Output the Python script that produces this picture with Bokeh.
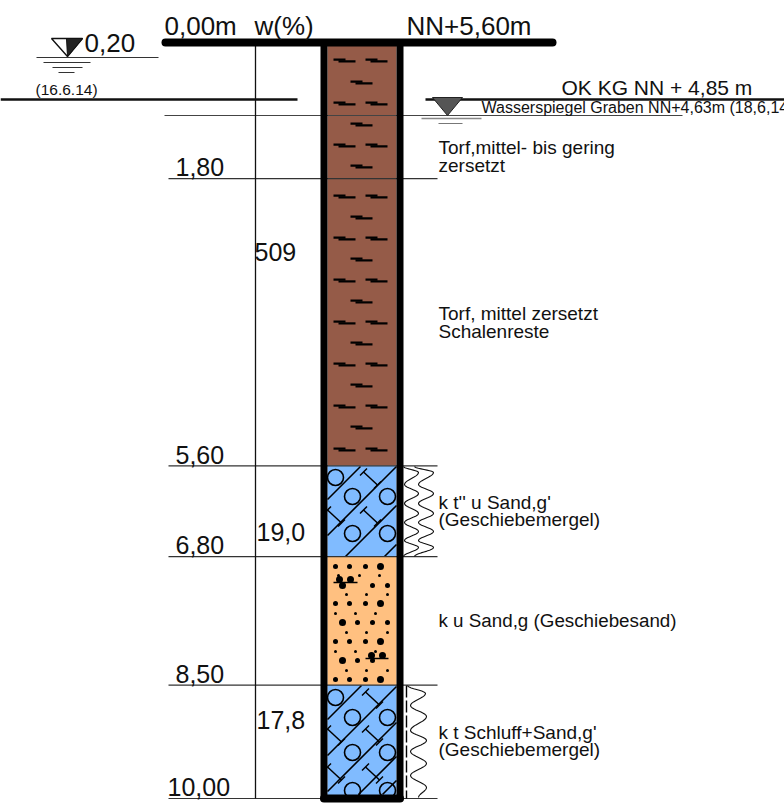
import math
from bokeh.plotting import figure
from bokeh.models import Range1d
from bokeh.embed import file_html
from bokeh.resources import INLINE

# ---- data ----
layer_tops = [0.00, 5.60, 6.80, 8.50]
layer_bottoms = [5.60, 6.80, 8.50, 10.00]
layer_colors = ["#955b48", "#80bbff", "#ffc080", "#80bbff"]
depth_labels = ["1,80", "5,60", "6,80", "8,50", "10,00"]
depth_values = [1.80, 5.60, 6.80, 8.50, 10.00]
moisture_labels = ["509", "19,0", "17,8"]

PX_PER_M = 75.6
TOP_PX = 42.0
W, H = 784, 812
FONT = "Liberation Sans"
INK = "#111111"


def Y(px):
    return (px - TOP_PX) / PX_PER_M


p = figure(width=W, height=H, output_backend="svg", toolbar_location=None,
           x_range=Range1d(0, W), y_range=Range1d(Y(H), Y(0)),
           min_border=0, outline_line_color=None, background_fill_color="white")
p.axis.visible = False
p.grid.visible = False


def line(x0, y0, x1, y1, w=1.0, c="#222222", cap="butt", dash=None):
    r = p.line([x0, x1], [Y(y0), Y(y1)], line_width=w, line_color=c, line_cap=cap)
    if dash:
        r.glyph.line_dash = dash


def poly(xs, ys, w=1.0, c="#111111"):
    p.line(xs, [Y(v) for v in ys], line_width=w, line_color=c, line_join="round")


def txt(x, y, s, size):
    # the svg backend sets this baseline about a third of the size too low
    p.text([x - 1], [Y(y - 1 - 0.33 * size)], text=[s], text_font_size=f"{size}px", text_font={"value": FONT},
           text_color=INK, text_baseline="alphabetic", text_align="left")


# layers
p.quad(left=327, right=396, top=layer_tops, bottom=layer_bottoms,
       fill_color=layer_colors, line_color=None)


def peat_mark(x0, y0):
    line(x0, y0 - 0.9, x0 + 12, y0 - 0.9, 2.2, "#000000")
    line(x0 + 5, y0 + 0.9, x0 + 22, y0 + 0.9, 2.2, "#000000")


peat_double = [60, 103, 145, 196, 238, 280, 322, 364, 406, 449]
peat_single = [82, 124, 166, 217, 259, 301, 343, 385, 427]
for y in peat_double:
    peat_mark(333, y)
    peat_mark(365, y)
for y in peat_single:
    peat_mark(350, y)


def clip_diag(a, y0, y1):
    x0 = max(327.0, a - y1)
    x1 = min(396.0, a - y0)
    if x0 >= x1:
        return None
    return x0, a - x0, x1, a - x1


def circle(x, y, r):
    p.scatter([x], [Y(y)], marker="circle", size=2 * r, fill_color=None,
              line_color="#000000", line_width=1.6)


def ibeam(x, y):
    dx, dy = 7, 6.5
    line(x - dx, y - dy, x + dx, y + dy, 1.5, "#000000")
    line(x - dx - 3.5, y - dy + 3.5, x - dx + 3.5, y - dy - 3.5, 1.5, "#000000")
    line(x + dx - 3.5, y + dy + 3.5, x + dx + 3.5, y + dy - 3.5, 1.5, "#000000")


for a, y0, y1 in [(826, 466, 556), (862, 466, 556), (901, 466, 556), (940, 466, 556),
                  (1046, 685, 794), (1082, 685, 794), (1118, 685, 794), (1152, 685, 794), (1176, 685, 794)]:
    seg = clip_diag(a, y0, y1)
    if seg:
        line(seg[0], seg[1], seg[2], seg[3], 1.6, "#000000")

for cx, cy in [(335, 477), (352, 496), (387, 496), (352, 533), (387, 533)]:
    circle(cx, cy, 8)
for cx, cy in [(370, 478), (334, 516), (370, 516)]:
    ibeam(cx, cy)

for cx, cy in [(335, 697), (352, 717), (387, 717), (352, 752), (387, 752), (352, 790), (387, 790)]:
    circle(cx, cy, 8)
for cx, cy in [(372, 698), (334, 735), (372, 735), (334, 773), (372, 773)]:
    ibeam(cx, cy)

# sand dots
medium = [(335, 566), (349, 566), (365, 566), (335, 603), (349, 603), (365, 603), (335, 641), (349, 641),
          (365, 641), (335, 679), (349, 679), (365, 679), (372, 585), (387, 585), (357, 622),
          (372, 622), (387, 622), (357, 660), (372, 660)]
large = [(380, 566), (380, 603), (380, 641), (380, 679), (342, 585), (342, 622), (342, 660),
         (339, 579), (350, 579), (371, 655), (382, 655)]
small = [(338, 575), (359, 575), (379, 575), (346, 594), (366, 594), (387, 594), (335, 613), (355, 613),
         (375, 613), (346, 632), (366, 632), (387, 632), (335, 651), (355, 651), (375, 651), (346, 670),
         (366, 670), (387, 670)]
for pts, s in [(medium, 5), (large, 7), (small, 3)]:
    p.scatter([a for a, _ in pts], [Y(b) for _, b in pts], marker="circle", size=s,
              fill_color="#000000", line_color=None)
line(333, 582, 357, 582, 1.5, "#000000")
line(365, 658, 388, 658, 1.5, "#000000")

# horizontal thin lines
line(164, 115, 682, 115, 1.0, "#444444")
for d in depth_values:
    y = TOP_PX + d * PX_PER_M
    line(168, y, 437, y, 1.2, "#333333")

# w column
line(255, 42, 255, 798, 1.3, "#111111")

# frame
line(323.5, 42, 323.5, 798, 7, "#000000", "round")
line(399.5, 42, 399.5, 798, 7, "#000000", "round")
line(323.5, 798, 399.5, 798, 8, "#000000", "round")
line(165, 42, 552, 42, 8, "#000000", "round")

# water levels
line(0, 99, 297, 99, 2.4, "#111111")
line(425, 99, 784, 99, 2.4, "#111111")

# left symbol
p.patch([51, 82, 67], [Y(38), Y(38), Y(56)], fill_color="white", line_color="#111111", line_width=1.4)
p.patch([66, 82, 67], [Y(38), Y(38), Y(56)], fill_color="#222222", line_color="#111111", line_width=1)
line(36, 57, 158, 57, 1.2, "#333333")
line(43, 62, 90, 62, 1.2, "#333333")
line(52, 67, 82, 67, 1.2, "#333333")
line(58, 72, 74, 72, 1.2, "#333333")

# right symbol
p.patch([432, 462, 447], [Y(97), Y(97), Y(115)], fill_color="#555555", line_color="#222222", line_width=1)
line(421, 118, 481, 118, 1.4, "#888888")
line(438, 123, 462, 123, 1.2, "#777777")


def wave(points, n=10):
    xs, ys = [], []
    for (xa, ya), (xb, yb) in zip(points, points[1:]):
        for i in range(n):
            t = i / n
            e = (1 - math.cos(math.pi * t)) / 2
            xs.append(xa + (xb - xa) * e)
            ys.append(ya + (yb - ya) * t)
    xs.append(points[-1][0])
    ys.append(points[-1][1])
    return xs, ys


wave_a1 = [(403, 466), (418, 472), (404, 484), (418, 493), (404, 503), (418, 513), (404, 522), (418, 531), (404, 540), (418, 547), (403, 556)]
wave_a2 = [(414, 466), (433, 472), (418, 484), (433, 493), (418, 503), (433, 513), (418, 522), (433, 531), (418, 540), (433, 547), (414, 556)]
wave_b = [(407, 685), (425, 693), (410, 705), (426, 716), (410, 730), (426, 740), (410, 751), (426, 763), (410, 775), (426, 787), (418, 797)]
for pts in (wave_a1, wave_a2, wave_b):
    xs, ys = wave(pts)
    poly(xs, ys, 1.1)
line(406, 685, 406, 798, 1.4, "#000000", dash="12 3")

# texts
txt(165, 35, "0,00m", 26)
txt(255, 35, "w(%)", 26)
txt(407, 35, "NN+5,60m", 26)
txt(85, 52, "0,20", 26)
txt(36, 95, "(16.6.14)", 15.5)
txt(562, 95, "OK KG NN + 4,85 m", 21)
txt(482, 113, "Wasserspiegel Graben NN+4,63m (18,6,14)", 16)

for s, d in zip(depth_labels, depth_values):
    x = 168 if s == "10,00" else 176
    txt(x, TOP_PX + d * PX_PER_M - 2, s, 25)

for s, x, y in zip(moisture_labels, [255, 257, 257], [261, 541, 729]):
    txt(x, y, s, 25)

txt(439, 154, "Torf,mittel- bis gering", 19)
txt(439, 172, "zersetzt", 19)
txt(439, 320, "Torf, mittel zersetzt", 19)
txt(439, 338, "Schalenreste", 19)
txt(439, 509, "k t'' u Sand,g'", 19)
txt(439, 526, "(Geschiebemergel)", 19)
txt(439, 627, "k u Sand,g (Geschiebesand)", 18.8)
txt(439, 739, "k t Schluff+Sand,g'", 19)
txt(439, 756, "(Geschiebemergel)", 19)

open("out.html", "w").write(file_html(p, INLINE))
